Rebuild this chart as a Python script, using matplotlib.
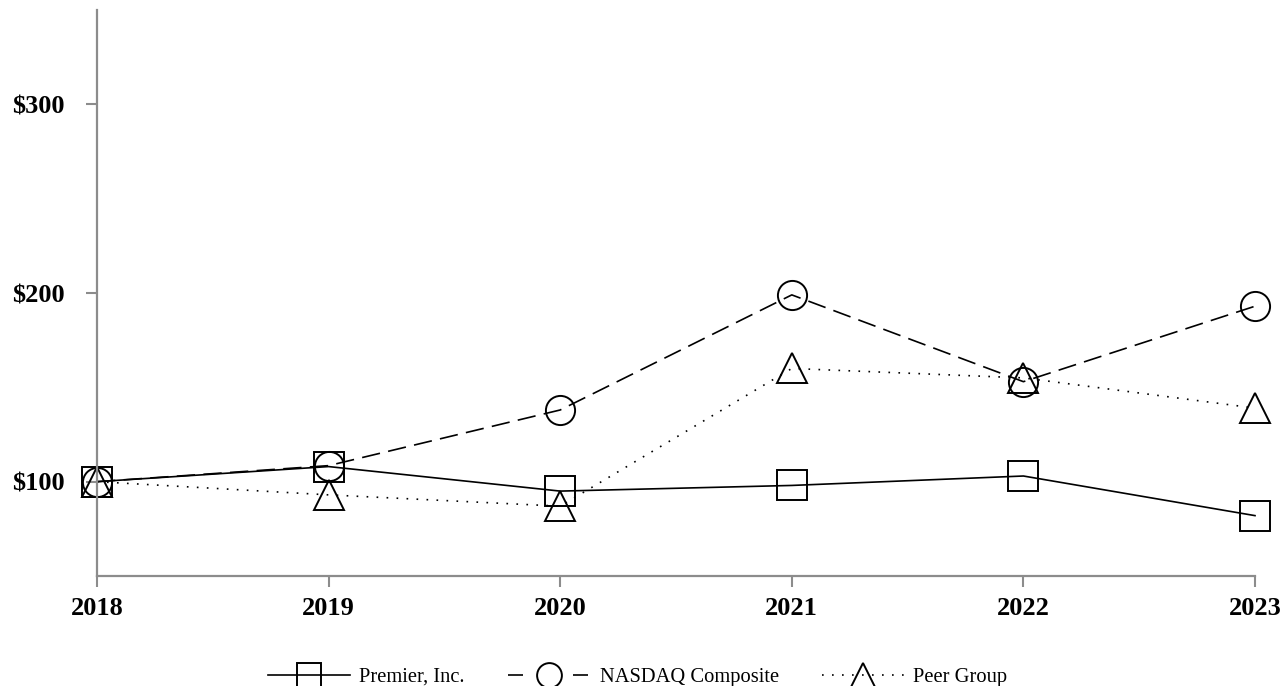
import matplotlib
matplotlib.use("Agg")
import matplotlib.pyplot as plt

years = [2018, 2019, 2020, 2021, 2022, 2023]
premier = [100, 108, 95, 98, 103, 82]
nasdaq = [100, 108.5, 138, 199, 153, 193]
peer = [100, 93, 87, 160, 155, 139]
ytick_vals = [100, 200, 300]
ytick_labels = ["$100", "$200", "$300"]

plt.rcParams['font.family'] = ['Liberation Serif', 'DejaVu Serif']

fig = plt.figure(figsize=(12.83, 6.86), dpi=100)
ax = fig.add_axes([97/1283, 110/686, (1255-97)/1283, 566/686])

mk = dict(markersize=21, markerfacecolor='none', markeredgecolor='black',
          markeredgewidth=1.4, color='black', lw=1.2, clip_on=False)
ax.plot(years, premier, marker='s', linestyle='-', label='Premier, Inc.', **mk)
ax.plot(years, nasdaq, marker='o', linestyle=(0, (11, 5)), label='NASDAQ Composite', **mk)
ax.plot(years, peer, marker='^', linestyle=(0, (1, 5)), label='Peer Group', **mk)

ax.set_xlim(2018, 2023)
ax.set_ylim(50, 350)
ax.set_xticks(years)
ax.set_xticklabels([str(y) for y in years], fontsize=19, fontweight='bold')
ax.set_yticks(ytick_vals)
ax.set_yticklabels(ytick_labels, fontsize=19, fontweight='bold')
ax.tick_params(axis='y', length=8, width=1.5, color='#8c8c8c', pad=15)
ax.tick_params(axis='x', length=8, width=1.5, color='#8c8c8c', pad=7)

for s in ['top', 'right']:
    ax.spines[s].set_visible(False)
for s in ['left', 'bottom']:
    ax.spines[s].set_color('#8c8c8c')
    ax.spines[s].set_linewidth(1.6)

leg = fig.legend(loc='lower center', bbox_to_anchor=(0.497, -0.022), ncol=3, frameon=False,
                 fontsize=14.8, handlelength=4.0, columnspacing=2.1, handletextpad=0.45,
                 markerscale=0.85, borderpad=0.2)
# nasdaq legend sample: short dash each side of the circle
leg.get_lines()[1].set_linestyle((0, (9, 30)))

fig.savefig("out.png", dpi=100)
